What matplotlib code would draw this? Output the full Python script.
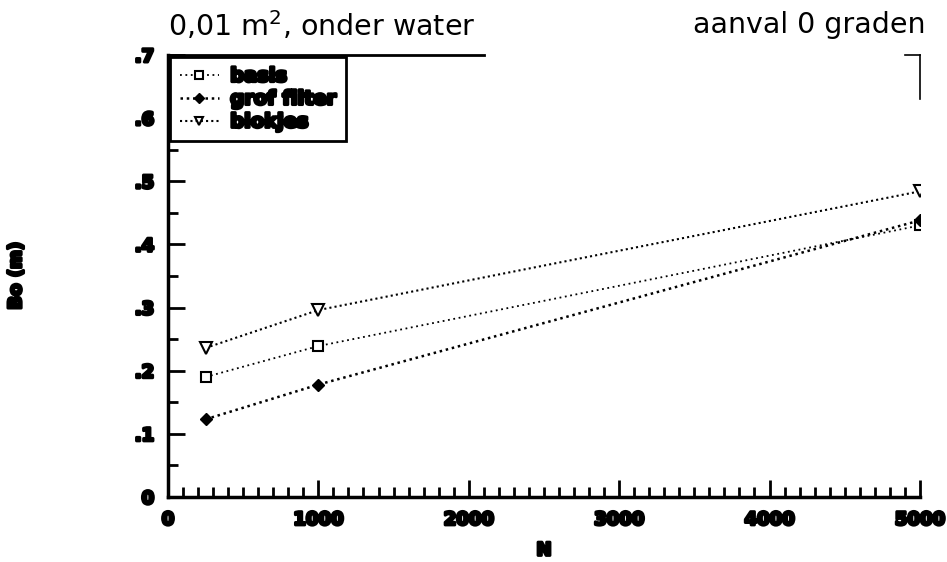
import matplotlib.pyplot as plt
import matplotlib.patheffects as pe
from matplotlib.ticker import MultipleLocator, FuncFormatter

n_values = [250, 1000, 5000]
basis = [0.19, 0.239, 0.43]
grof_filter = [0.123, 0.178, 0.438]
blokjes = [0.236, 0.296, 0.484]

x_ticks = [0, 1000, 2000, 3000, 4000, 5000]
y_ticks = [0, 0.1, 0.2, 0.3, 0.4, 0.5, 0.6, 0.7]

blob = [pe.withStroke(linewidth=2.2, foreground="black")]

fig = plt.figure(figsize=(9.47, 5.62), dpi=100)
ax = fig.add_axes([0.1774, 0.1157, 0.794, 0.7865])

ax.plot(n_values, basis, linestyle=(0, (1, 2)), color="black", lw=1.3,
        marker="s", mfc="white", mec="black", ms=7, mew=1.5, label="basis")
ax.plot(n_values, grof_filter, linestyle=(0, (1, 1.5)), color="black", lw=1.8,
        marker="D", mfc="black", mec="black", ms=6, label="grof filter")
ax.plot(n_values, blokjes, linestyle=(0, (1, 1.5)), color="black", lw=1.5,
        marker="v", mfc="white", mec="black", ms=8, mew=1.5, label="blokjes")

ax.set_xlim(0, 5000)
ax.set_ylim(0, 0.7)
ax.set_xticks(x_ticks)
ax.set_yticks(y_ticks)
ax.xaxis.set_minor_locator(MultipleLocator(100))
ax.yaxis.set_minor_locator(MultipleLocator(0.05))
ax.yaxis.set_major_formatter(FuncFormatter(lambda v, p: "0" if v == 0 else ("%.1f" % v).lstrip("0")))

ax.tick_params(which="major", direction="in", length=12, width=2)
ax.tick_params(which="minor", direction="in", length=7, width=2)
ax.tick_params(axis="both", labelsize=13, pad=10)
for lab in ax.get_xticklabels() + ax.get_yticklabels():
    lab.set_fontweight("heavy")
    lab.set_path_effects(blob)

for side in ["top", "right"]:
    ax.spines[side].set_visible(False)
for side in ["left", "bottom"]:
    ax.spines[side].set_linewidth(2.5)
ax.plot([0, 2100], [0.7, 0.7], color="black", lw=2, clip_on=False)
ax.plot([5000, 5000], [0.63, 0.7], color="black", lw=1.2, clip_on=False)
ax.plot([4900, 5000], [0.7, 0.7], color="black", lw=1.2, clip_on=False)

ax.set_xlabel("N", fontsize=13, fontweight="heavy", labelpad=9, path_effects=blob)
ax.set_ylabel("Bo (m)", fontsize=13, fontweight="heavy", path_effects=blob)
ax.yaxis.set_label_coords(-0.19, 0.5)

fig.text(0.1774, 0.955, "0,01 m$^2$, onder water", fontsize=20.5,
         va="center", ha="left")
fig.text(0.977, 0.955, "aanval 0 graden", fontsize=20.5,
         va="center", ha="right")

leg = ax.legend(loc="upper left", bbox_to_anchor=(0.0, 1.0), fancybox=False,
                edgecolor="black", framealpha=1, borderaxespad=0.1,
                handlelength=2.0, handletextpad=0.6, borderpad=0.5,
                labelspacing=0.2, markerscale=0.8,
                prop={"weight": "heavy", "size": 14})
leg.get_frame().set_linewidth(2)
for t in leg.get_texts():
    t.set_path_effects(blob)

fig.savefig("out.png", dpi=100)
